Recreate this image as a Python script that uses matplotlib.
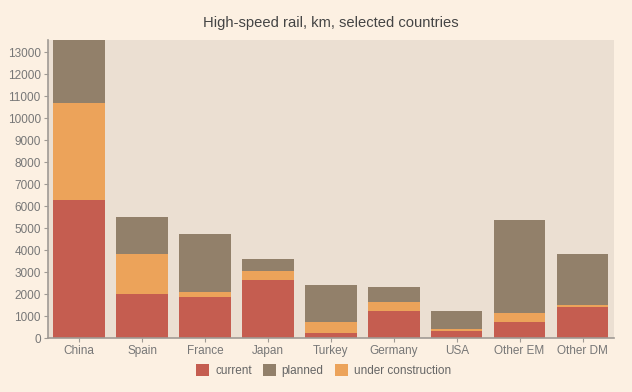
import matplotlib.pyplot as plt
import numpy as np

plt.rcParams['font.family'] = ['Liberation Sans', 'DejaVu Sans']

# dados (km)
countries = ['China', 'Spain', 'France', 'Japan', 'Turkey', 'Germany', 'USA', 'Other EM', 'Other DM']
current = [6300, 2030, 1890, 2650, 230, 1255, 330, 725, 1440]
under_construction = [4380, 1800, 230, 395, 510, 410, 80, 410, 60]
planned = [3300, 1700, 2610, 575, 1670, 655, 845, 4245, 2320]

c_current = '#c55d50'
c_planned = '#92806a'
c_uc = '#eca35a'

fig = plt.figure(figsize=(6.32, 3.92), dpi=100, facecolor='#fcf0e2')
ax = fig.add_axes([47.7 / 632, 1 - 338.3 / 392, (614 - 47.7) / 632, (338.3 - 39.5) / 392])
ax.set_facecolor('#ebdfd2')

x = np.arange(len(countries))
cur = np.array(current)
uc = np.array(under_construction)
pl = np.array(planned)

w = 0.82
ax.bar(x, cur, w, color=c_current, label='current', zorder=2)
ax.bar(x, pl, w, bottom=cur + uc, color=c_planned, label='planned', zorder=2)
ax.bar(x, uc, w, bottom=cur, color=c_uc, label='under construction', zorder=2)

ax.set_xlim(-0.5, len(countries) - 0.5)
ax.set_ylim(0, 13580)
ax.set_yticks(range(0, 13001, 1000))
ax.set_xticks(x)
ax.set_xticklabels(countries)

for s in ['top', 'right']:
    ax.spines[s].set_visible(False)
for s in ['left', 'bottom']:
    ax.spines[s].set_color('#a09a94')
    ax.spines[s].set_linewidth(1.2)
ax.tick_params(colors='#a09a94', labelcolor='#777777', labelsize=8.5, length=3)
ax.tick_params(axis='x', pad=2)
ax.tick_params(axis='y', pad=2)

ax.set_title('High-speed rail, km, selected countries', fontsize=10.6, color='#444444', pad=9)

ax.legend(loc='center', bbox_to_anchor=(0.487, -0.108), ncol=3, frameon=False,
          fontsize=8.5, handlelength=1.1, handleheight=1.1, handletextpad=0.5,
          columnspacing=0.95, labelcolor='#666666')

plt.savefig('out.png', dpi=100, facecolor=fig.get_facecolor())
